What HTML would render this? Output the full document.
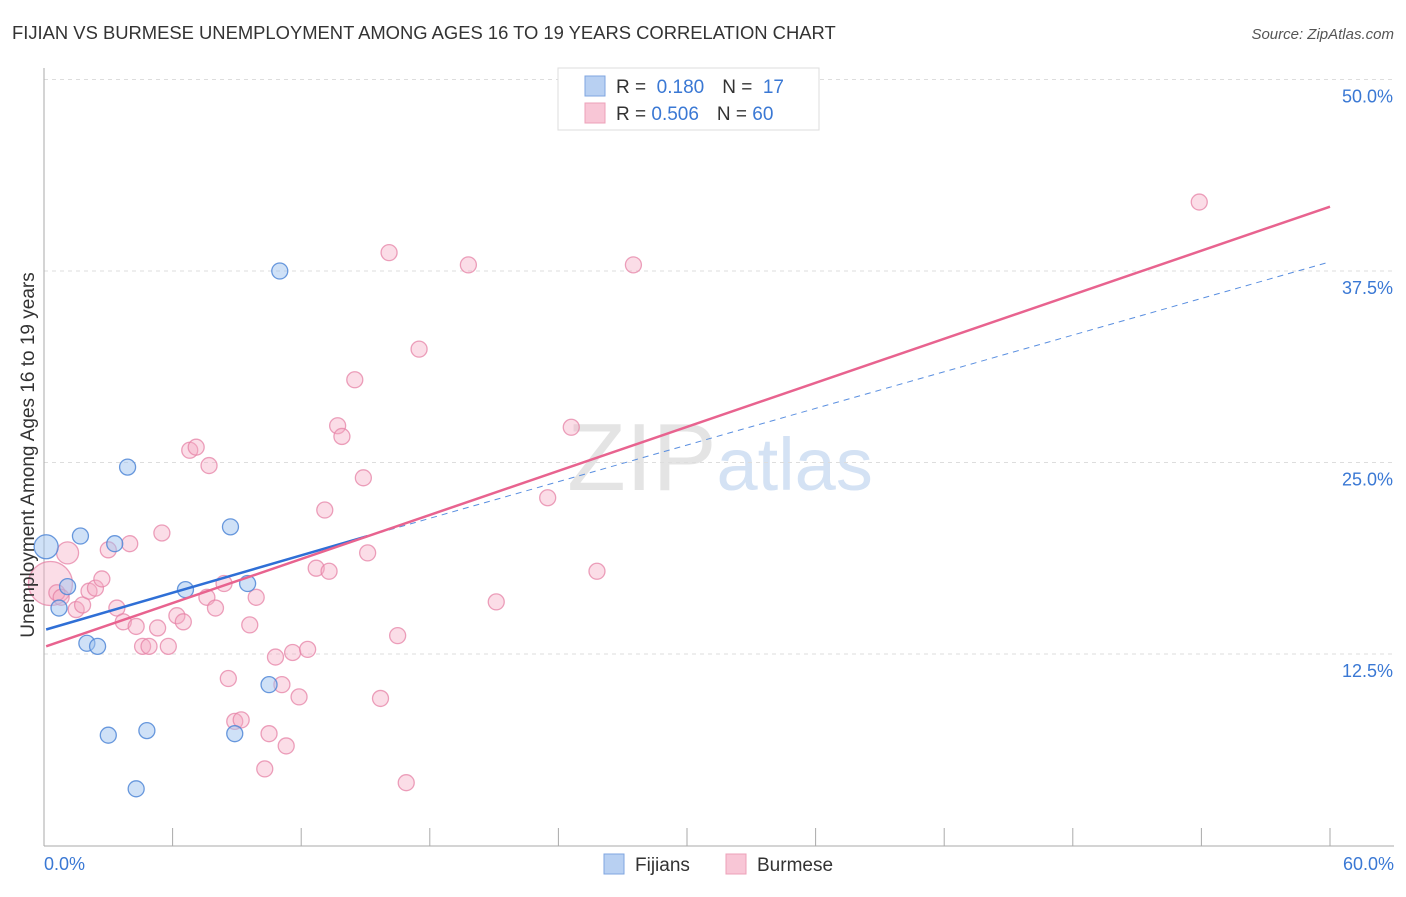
<!DOCTYPE html>
<html><head><meta charset="utf-8"><style>
body{margin:0;background:#fff;font-family:"Liberation Sans",sans-serif;}
svg text{font-family:"Liberation Sans",sans-serif;}
</style></head><body>
<svg id="chart" width="1406" height="892">
<text x="12" y="39" font-size="18.4" fill="#333">FIJIAN VS BURMESE UNEMPLOYMENT AMONG AGES 16 TO 19 YEARS CORRELATION CHART</text>
<text x="1394" y="39" font-size="15" fill="#555" text-anchor="end" font-style="italic">Source: ZipAtlas.com</text>
<text x="720" y="490" font-size="96" fill="#e4e4e4" text-anchor="middle" font-family="Liberation Serif">ZIP<tspan fill="#d4e2f4" font-family="Liberation Sans" font-size="74">atlas</tspan></text>
<g id="grid"></g>
<g id="axes"></g>
<g id="marks"></g>
<text transform="translate(34,455) rotate(-90)" font-size="19" fill="#333" text-anchor="middle">Unemployment Among Ages 16 to 19 years</text>
<text x="44" y="870" font-size="18" fill="#3a78d4">0.0%</text>
<text x="1394" y="870" font-size="18" fill="#3a78d4" text-anchor="end">60.0%</text>
<g>
<rect x="558" y="68" width="261" height="62" fill="#fff" stroke="#ddd"/>
<rect x="585" y="76" width="20" height="20" fill="#b8d0f2" stroke="#7fa6e0"/>
<rect x="585" y="103" width="20" height="20" fill="#f8c6d6" stroke="#eda0b8"/>
<text x="616" y="93" font-size="19" fill="#333">R = <tspan fill="#3a78d4">&#160;0.180</tspan><tspan dx="18">N = </tspan><tspan fill="#3a78d4">&#160;17</tspan></text>
<text x="616" y="120" font-size="19" fill="#333">R = <tspan fill="#3a78d4">0.506</tspan><tspan dx="18">N = </tspan><tspan fill="#3a78d4">60</tspan></text>
</g>
<g>
<rect x="604" y="854" width="20" height="20" fill="#b8d0f2" stroke="#7fa6e0"/>
<text x="635" y="871" font-size="19" fill="#333">Fijians</text>
<rect x="726" y="854" width="20" height="20" fill="#f8c6d6" stroke="#eda0b8"/>
<text x="757" y="871" font-size="19" fill="#333">Burmese</text>
</g>
</svg>
<script>
const yTicks=[12.5,25,37.5,50];
const yTickLabels=["12.5%","25.0%","37.5%","50.0%"];
const fijX=[0.1,1.1,0.7,1.7,3.3,2.0,2.5,3.9,3.0,4.8,4.3,6.6,8.7,9.5,11.0,10.5,8.9];
const fijY=[19.5,16.9,15.5,20.2,19.7,13.2,13.0,24.7,7.2,7.5,3.7,16.7,20.8,17.1,37.5,10.5,7.3];
const fijR=[12,8,8,8,8,8,8,8,8,8,8,8,8,8,8,8,8];
const burX=[0.3,1.1,0.6,0.8,1.5,1.8,2.1,2.4,2.7,3.0,3.4,3.7,4.0,4.3,4.6,4.9,5.3,5.5,5.8,6.2,6.5,6.8,7.1,7.7,7.6,8.0,8.4,8.6,8.9,9.2,9.6,9.9,10.3,10.5,10.8,11.1,11.3,11.6,11.9,12.3,12.7,13.1,13.3,13.7,13.9,14.5,14.9,15.1,15.7,16.1,16.5,16.9,17.5,19.8,21.1,23.5,24.6,25.8,27.5,53.9];
const burY=[17.1,19.1,16.5,16.2,15.4,15.7,16.6,16.8,17.4,19.3,15.5,14.6,19.7,14.3,13.0,13.0,14.2,20.4,13.0,15.0,14.6,25.8,26.0,24.8,16.2,15.5,17.1,10.9,8.1,8.2,14.4,16.2,5.0,7.3,12.3,10.5,6.5,12.6,9.7,12.8,18.1,21.9,17.9,27.4,26.7,30.4,24.0,19.1,9.6,38.7,13.7,4.1,32.4,37.9,15.9,22.7,27.3,17.9,37.9,42.0];
const burR=[22,11,8,8,8,8,8,8,8,8,8,8,8,8,8,8,8,8,8,8,8,8,8,8,8,8,8,8,8,8,8,8,8,8,8,8,8,8,8,8,8,8,8,8,8,8,8,8,8,8,8,8,8,8,8,8,8,8,8,8];
const fijTrend=[[0.1,14.1],[15.1,20.2],[60,38.1]];
const burTrend=[[0.1,13.0],[60,41.7]];
const NS="http://www.w3.org/2000/svg";
const X=v=>44+v*(1286/60), Y=v=>845.5-v*15.32;
function mk(tag,attrs,parent){const e=document.createElementNS(NS,tag);for(const k in attrs)e.setAttribute(k,attrs[k]);parent.appendChild(e);return e;}
const grid=document.getElementById('grid'),axes=document.getElementById('axes'),marks=document.getElementById('marks');
yTicks.forEach((t,i)=>{
 const l=mk('line',{x1:44,x2:1394,y1:Y(t),y2:Y(t),stroke:'#ddd','stroke-dasharray':'4,4'},grid);
 
 
 const tx=mk('text',{x:1393,y:Y(t)+23,'font-size':18,fill:'#3a78d4','text-anchor':'end'},grid);
 tx.textContent=yTickLabels[i];
 
 
});
const ax=mk('line',{x1:44,x2:44,y1:68,y2:846,stroke:'#aaa'},axes);


const bx=mk('line',{x1:44,x2:1394,y1:846,y2:846,stroke:'#aaa'},axes);


for(let i=1;i<=10;i++){const v=i*6;const t=mk('line',{x1:X(v),x2:X(v),y1:828,y2:846,stroke:'#aaa'},axes);
 
 }
function dots(xs,ys,rs,fill,stroke,name){xs.forEach((x,i)=>{const c=mk('circle',{cx:X(x),cy:Y(ys[i]),r:rs[i],fill:fill,stroke:stroke,'stroke-width':1.3},marks);
 
 });}
dots(burX,burY,burR,'rgba(246,170,196,0.4)','rgba(230,130,165,0.75)','burmese-point');
dots(fijX,fijY,fijR,'rgba(160,195,240,0.5)','rgba(80,135,215,0.85)','fijian-point');
const f1=mk('line',{x1:X(fijTrend[0][0]),y1:Y(fijTrend[0][1]),x2:X(fijTrend[1][0]),y2:Y(fijTrend[1][1]),stroke:'#2f6fd6','stroke-width':2.5},marks);


const f2=mk('line',{x1:X(fijTrend[1][0]),y1:Y(fijTrend[1][1]),x2:X(fijTrend[2][0]),y2:Y(fijTrend[2][1]),stroke:'#5a8fe0','stroke-width':1,'stroke-dasharray':'6,5'},marks);


const b1=mk('line',{x1:X(burTrend[0][0]),y1:Y(burTrend[0][1]),x2:X(burTrend[1][0]),y2:Y(burTrend[1][1]),stroke:'#e8638f','stroke-width':2.5},marks);


</script>
</body></html>
